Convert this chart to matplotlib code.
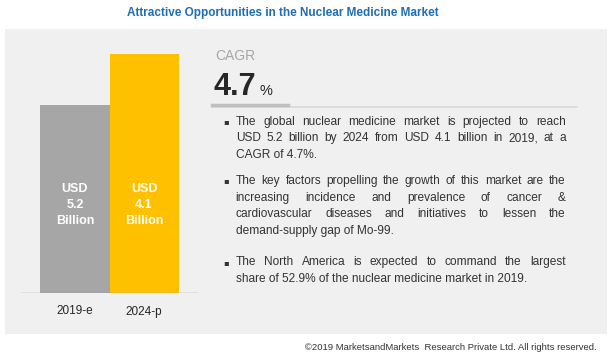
import numpy as np
import matplotlib.pyplot as plt
from matplotlib.patches import Rectangle
from matplotlib.lines import Line2D
import matplotlib.transforms as mtransforms

W, H = 614, 358

# data
years = ['2019-e', '2024-p']
market_values = [4.1, 5.2]  # USD billion, bar heights
bar_labels = ['USD\n5.2\nBillion', 'USD\n4.1\nBillion']
bar_colors = ['#a6a6a6', '#ffc000']
cagr = '4.7'
title = 'Attractive Opportunities in the Nuclear Medicine Market'
bullets = [
    ['The global nuclear medicine market is projected to reach',
     'USD 5.2 billion by 2024 from USD 4.1 billion in 2019, at a',
     'CAGR of 4.7%.'],
    ['The key factors propelling the growth of this market are the',
     'increasing incidence and prevalence of cancer &',
     'cardiovascular diseases and initiatives to lessen the',
     'demand-supply gap of Mo-99.'],
    ['The North America is expected to command the largest',
     'share of 52.9% of the nuclear medicine market in 2019.'],
]
footer = '\u00a92019 MarketsandMarkets  Research Private Ltd. All rights reserved.'

body = ['Liberation Sans', 'DejaVu Sans']


def fx(x):
    return x / W


def fy(y):
    return 1 - y / H


fig = plt.figure(figsize=(W / 100, H / 100), dpi=100)
fig.patch.set_facecolor('white')

# grey panel
fig.patches.append(Rectangle((fx(5), fy(334)), fx(602), (334 - 29) / H,
                             transform=fig.transFigure, facecolor='#f0f0f0',
                             edgecolor='none', zorder=-5))

fig.canvas.draw()
renderer = fig.canvas.get_renderer()

# title, sized to the reference width
tt = fig.text(fx(283), fy(13), title, ha='center', va='center', fontsize=10,
              fontweight='bold', color='#1f6db5', family=body)
tw = tt.get_window_extent(renderer).width
tt.set_fontsize(10 * 310 / tw)

# bar chart
ax = fig.add_axes([fx(21), fy(293), 177 / W, (293 - 54) / H])
ax.patch.set_alpha(0)
x = np.arange(len(years))
ax.bar(x, market_values, width=1.0, color=bar_colors, zorder=2)
ax.set_xlim(0.5 - 177 / 69 / 2, 0.5 + 177 / 69 / 2)
ax.set_ylim(0, max(market_values))
ax.axhline(0, color='#a0a0a0', lw=1, zorder=3)
for s in ax.spines.values():
    s.set_visible(False)
ax.set_yticks([])
ax.set_xticks(x, years)
ax.tick_params(axis='x', length=0, pad=9, labelsize=8.5, labelcolor='#262626')
for lab in ax.get_xticklabels():
    lab.set_family(body)
trans = mtransforms.blended_transform_factory(ax.transData, ax.transAxes)
for i, lab in enumerate(bar_labels):
    ax.text(x[i], (293 - 205) / 239, lab, transform=trans, ha='center', va='center',
            color='white', fontsize=9, fontweight='bold', family=body,
            linespacing=1.45)

# CAGR block
fig.text(fx(215), fy(56), 'CAGR', ha='left', va='center', fontsize=10,
         color='#a6a6a6', family=body)
fig.text(fx(214), fy(95), cagr, ha='left', va='baseline', fontsize=22,
         fontweight='bold', color='#262626', family=body)
fig.text(fx(259), fy(95), '%', ha='left', va='baseline', fontsize=10.5,
         color='#262626', family=body)
fig.add_artist(Line2D([fx(212), fx(577)], [fy(107), fy(107)], color='#d9d9d9', lw=1.2))
fig.add_artist(Line2D([fx(212), fx(288)], [fy(105), fy(105)], color='#bfbfbf', lw=2.5))

# justified bullet text
txt_kw = dict(fontsize=8.6, color='#333333', family=body, va='center')


def width_px(s):
    t = fig.text(0, 0, s, **txt_kw)
    w = t.get_window_extent(renderer).width
    t.remove()
    return w


x_left, x_right = 235.7, 565.7
para_y = [121.7, 181.0, 262.3]
line_h = 16.6
for p, lines in enumerate(bullets):
    y0 = para_y[p]
    fig.text(fx(225.7), fy(y0), '\u25aa', fontsize=6, color='#333333',
             family=['DejaVu Sans'], ha='center', va='center')
    for j, line in enumerate(lines):
        y = y0 + j * line_h
        if j == len(lines) - 1:
            fig.text(fx(x_left), fy(y), line, ha='left', **txt_kw)
            continue
        words = line.split()
        ws = [width_px(w) for w in words]
        gap = (x_right - x_left - sum(ws)) / (len(words) - 1)
        xc = x_left
        for w, wd in zip(words, ws):
            fig.text(fx(xc), fy(y), w, ha='left', **txt_kw)
            xc += wd + gap

fig.text(fx(597), fy(347), footer, ha='right', va='center', fontsize=6.8,
         color='#333333', family=body)

fig.savefig('out.png', dpi=100)
